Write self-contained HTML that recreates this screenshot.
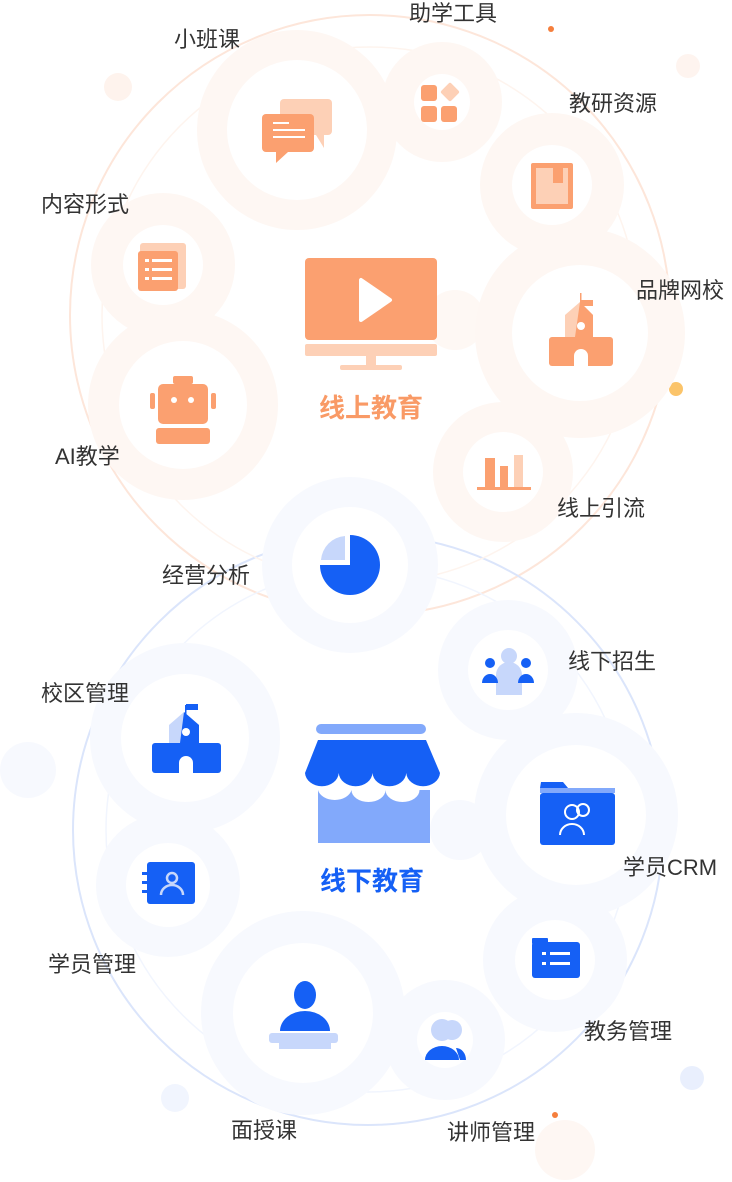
<!DOCTYPE html>
<html><head><meta charset="utf-8"><style>
html,body{margin:0;padding:0;background:#fff;}
svg{display:block}
text{font-family:"Liberation Sans","Noto Sans CJK SC",sans-serif;}
.l{font-size:22px;fill:#333;}
</style></head><body>
<svg width="732" height="1182" viewBox="0 0 732 1182" xmlns="http://www.w3.org/2000/svg">
<circle cx="370" cy="315" r="300" fill="none" stroke="#fde6da" stroke-width="2"/>
<circle cx="368" cy="830" r="295" fill="none" stroke="#dbe5fb" stroke-width="2"/>
<circle cx="370" cy="315" r="268" fill="none" stroke="#fef4ee" stroke-width="1.5"/>
<circle cx="368" cy="830" r="262" fill="none" stroke="#f1f5fe" stroke-width="1.5"/>
<circle cx="118" cy="87" r="14" fill="#fef3ed"/>
<circle cx="688" cy="66" r="12" fill="#fef4ef"/>
<circle cx="28" cy="770" r="28" fill="#f7f9fe"/>
<circle cx="692" cy="1078" r="12" fill="#e9effd"/>
<circle cx="175" cy="1098" r="14" fill="#f1f5fe"/>
<circle cx="565" cy="1150" r="30" fill="#fef7f3"/>
<circle cx="455" cy="320" r="30" fill="#fef8f4"/>
<circle cx="460" cy="830" r="30" fill="#f7f9fe"/>
<circle cx="551" cy="29" r="3" fill="#f57f3d"/>
<circle cx="676" cy="389" r="7" fill="#fbc46a"/>
<circle cx="555" cy="1115" r="3" fill="#f57f3d"/>
<g fill="#fef7f3">
<circle cx="297" cy="130" r="100"/><circle cx="442" cy="102" r="60"/><circle cx="552" cy="185" r="72"/>
<circle cx="163" cy="265" r="72"/><circle cx="580" cy="333" r="105"/><circle cx="183" cy="405" r="95"/>
<circle cx="503" cy="472" r="70"/>
</g>
<g fill="#fff">
<circle cx="297" cy="130" r="70"/><circle cx="442" cy="102" r="28"/><circle cx="552" cy="185" r="40"/>
<circle cx="163" cy="265" r="40"/><circle cx="580" cy="333" r="68"/><circle cx="183" cy="405" r="64"/>
<circle cx="503" cy="472" r="40"/>
</g>
<g fill="#f7f9fe">
<circle cx="350" cy="565" r="88"/><circle cx="508" cy="670" r="70"/><circle cx="185" cy="738" r="95"/>
<circle cx="576" cy="815" r="102"/><circle cx="168" cy="885" r="72"/><circle cx="555" cy="960" r="72"/>
<circle cx="303" cy="1013" r="102"/><circle cx="445" cy="1040" r="60"/>
</g>
<g fill="#fff">
<circle cx="350" cy="565" r="58"/><circle cx="508" cy="670" r="40"/><circle cx="185" cy="738" r="64"/>
<circle cx="576" cy="815" r="70"/><circle cx="168" cy="885" r="42"/><circle cx="555" cy="960" r="40"/>
<circle cx="303" cy="1013" r="70"/><circle cx="445" cy="1040" r="28"/>
</g>
<rect x="280" y="99" width="52" height="36" rx="4" fill="#fdd0b6"/>
<polygon points="316,135 324,135 324,148" fill="#fdd0b6"/>
<rect x="262" y="114" width="52" height="38" rx="4" fill="#fba070"/>
<polygon points="276,152 288,152 276,163" fill="#fba070"/>
<rect x="273" y="122" width="16" height="2" fill="#fff"/><rect x="273" y="129" width="32" height="2" fill="#fff"/><rect x="273" y="136" width="32" height="2" fill="#fff"/>
<rect x="421" y="85" width="16" height="16" rx="3" fill="#fba070"/>
<rect x="443" y="85" width="14" height="14" rx="2" fill="#fdd0b6" transform="rotate(45 450 92)"/>
<rect x="421" y="106" width="16" height="16" rx="3" fill="#fba070"/>
<rect x="441" y="106" width="16" height="16" rx="3" fill="#fba070"/>
<rect x="531" y="163" width="42" height="46" rx="2" fill="#fba070"/>
<rect x="536" y="168" width="32" height="36" fill="#fdd0b6"/>
<rect x="553" y="163" width="10" height="20" fill="#fba070"/>
<rect x="140" y="243" width="46" height="46" rx="3" fill="#fdd0b6"/>
<rect x="138" y="251" width="40" height="40" rx="3" fill="#fba070"/>
<g fill="#fff"><rect x="145" y="259" width="4" height="3"/><rect x="152" y="259" width="20" height="3"/><rect x="145" y="268" width="4" height="3"/><rect x="152" y="268" width="20" height="3"/><rect x="145" y="277" width="4" height="3"/><rect x="152" y="277" width="20" height="3"/></g>
<rect x="549" y="337" width="64" height="29" rx="3" fill="#fba070"/>
<path d="M565 337 L565 315 L580 302 L593 315 L593 337Z" fill="#fdd0b6"/>
<path d="M580 302 L593 315 L593 337 L575 337 Z" fill="#fba070"/>
<circle cx="581" cy="326" r="4" fill="#fff"/>
<rect x="580" y="293" width="1.5" height="10" fill="#fba070"/><rect x="581" y="300" width="12" height="6" fill="#fba070"/>
<path d="M574 366 L574 356 a7 7 0 0 1 14 0 L588 366Z" fill="#fff"/>
<rect x="173" y="376" width="20" height="8" rx="2" fill="#fba070"/>
<rect x="158" y="384" width="50" height="40" rx="5" fill="#fba070"/>
<rect x="150" y="393" width="5" height="16" rx="2" fill="#fba070"/><rect x="211" y="393" width="5" height="16" rx="2" fill="#fba070"/>
<circle cx="174" cy="400" r="3" fill="#fff"/><circle cx="191" cy="400" r="3" fill="#fff"/>
<rect x="156" y="428" width="54" height="16" rx="3" fill="#fba070"/>
<rect x="485" y="458" width="10" height="30" fill="#fba070"/><rect x="500" y="466" width="8" height="22" fill="#fba070"/><rect x="514" y="455" width="9" height="33" fill="#fdd0b6"/>
<rect x="477" y="487" width="54" height="3" fill="#fba070"/>
<rect x="305" y="258" width="132" height="82" rx="4" fill="#fba070"/>
<rect x="305" y="344" width="132" height="12" rx="2" fill="#fdd0b6"/>
<rect x="366" y="356" width="10" height="10" fill="#fdd0b6"/><rect x="340" y="365" width="62" height="5" rx="2" fill="#fdd0b6"/>
<path d="M361 280 L361 320 L390 300Z" fill="#fff" stroke="#fff" stroke-width="4" stroke-linejoin="round"/>
<text x="371" y="417" text-anchor="middle" font-size="26" font-weight="bold" fill="#f99a66">线上教育</text>
<path d="M350 565 L350 535 A30 30 0 1 1 320 565Z" fill="#1560f5"/>
<path d="M345 560 L345 536 A26 26 0 0 0 321 560Z" fill="#c7d7fb"/>
<circle cx="509" cy="656" r="8" fill="#c7d7fb"/><path d="M496 695 L496 675 a13 13 0 0 1 26 0 L522 695Z" fill="#c7d7fb"/>
<circle cx="490" cy="663" r="5" fill="#1560f5"/><path d="M482 683 a8 9 0 0 1 16 0 L498 683Z" fill="#1560f5"/>
<circle cx="526" cy="663" r="5" fill="#1560f5"/><path d="M518 683 a8 9 0 0 1 16 0 L534 683Z" fill="#1560f5"/>
<rect x="152" y="743" width="69" height="30" rx="3" fill="#1560f5"/>
<path d="M169 743 L169 725 L184 712 L199 725 L199 743Z" fill="#c7d7fb"/>
<path d="M184 712 L199 725 L199 743 L180 743Z" fill="#1560f5"/>
<circle cx="186" cy="732" r="4" fill="#fff"/>
<rect x="185" y="705" width="1.5" height="10" fill="#1560f5"/><rect x="186" y="704" width="12" height="6" fill="#1560f5"/>
<path d="M179 773 L179 763 a7 7 0 0 1 14 0 L193 773Z" fill="#fff"/>
<!-- store -->
<rect x="316" y="724" width="110" height="10" rx="5" fill="#82a9fb"/>
<path d="M318 843 L318 790 a17 12 0 0 0 33.5 0 a17 12 0 0 0 34 0 a17 12 0 0 0 34 0 L430 790 L430 843Z" fill="#82a9fb"/>
<path d="M318 740 L426 740 L440 773 a16.9 14 0 0 1 -33.75 0 a16.9 14 0 0 1 -33.75 0 a16.9 14 0 0 1 -33.75 0 a16.9 14 0 0 1 -33.75 0 Z" fill="#1560f5"/>
<text x="372" y="890" text-anchor="middle" font-size="26" font-weight="bold" fill="#1560f5">线下教育</text>
<path d="M541 782 L563 782 L568 788 L540 788Z" fill="#1560f5"/>
<rect x="540" y="793" width="75" height="52" rx="3" fill="#1560f5"/>
<rect x="540" y="788" width="75" height="5" fill="#82a9fb"/>
<circle cx="572" cy="812" r="7" fill="none" stroke="#fff" stroke-width="2"/><path d="M560 835 a12 11 0 0 1 24 0" fill="none" stroke="#fff" stroke-width="2"/>
<circle cx="583" cy="810" r="6" fill="none" stroke="#fff" stroke-width="2"/>
<rect x="147" y="862" width="48" height="42" rx="3" fill="#1560f5"/>
<g fill="#1560f5"><rect x="142" y="872" width="8" height="3"/><rect x="142" y="881" width="8" height="3"/><rect x="142" y="890" width="8" height="3"/></g>
<circle cx="172" cy="878" r="5" fill="none" stroke="#c7d7fb" stroke-width="2.5"/><path d="M161 895 a11 10 0 0 1 22 0" fill="none" stroke="#c7d7fb" stroke-width="2.5"/>
<rect x="532" y="938" width="16" height="6" rx="1" fill="#1560f5"/>
<rect x="532" y="942" width="48" height="36" rx="3" fill="#1560f5"/>
<g fill="#fff"><rect x="542" y="952" width="4" height="3"/><rect x="550" y="952" width="20" height="3"/><rect x="542" y="962" width="4" height="3"/><rect x="550" y="962" width="20" height="3"/></g>
<ellipse cx="305" cy="995" rx="11" ry="14" fill="#1560f5"/>
<path d="M280 1031 a25 20 0 0 1 50 0Z" fill="#1560f5"/>
<rect x="269" y="1033" width="69" height="10" rx="3" fill="#c7d7fb"/><rect x="279" y="1043" width="52" height="6" fill="#c7d7fb"/>
<circle cx="452" cy="1030" r="10" fill="#c7d7fb"/><circle cx="442" cy="1030" r="11" fill="#c7d7fb"/>
<path d="M425 1060 a17 14 0 0 1 34 0Z" fill="#1560f5"/><path d="M456 1048 a10 12 0 0 1 10 12 L460 1060Z" fill="#1560f5"/>
<text class="l" x="174" y="47">小班课</text>
<text class="l" x="409" y="21">助学工具</text>
<text class="l" x="569" y="111">教研资源</text>
<text class="l" x="41" y="212">内容形式</text>
<text class="l" x="636" y="298">品牌网校</text>
<text class="l" x="55" y="464">AI教学</text>
<text class="l" x="557" y="516">线上引流</text>
<text class="l" x="162" y="583">经营分析</text>
<text class="l" x="568" y="669">线下招生</text>
<text class="l" x="41" y="701">校区管理</text>
<text class="l" x="623" y="875">学员CRM</text>
<text class="l" x="48" y="972">学员管理</text>
<text class="l" x="584" y="1039">教务管理</text>
<text class="l" x="231" y="1138">面授课</text>
<text class="l" x="447" y="1140">讲师管理</text>
</svg>
</body></html>
